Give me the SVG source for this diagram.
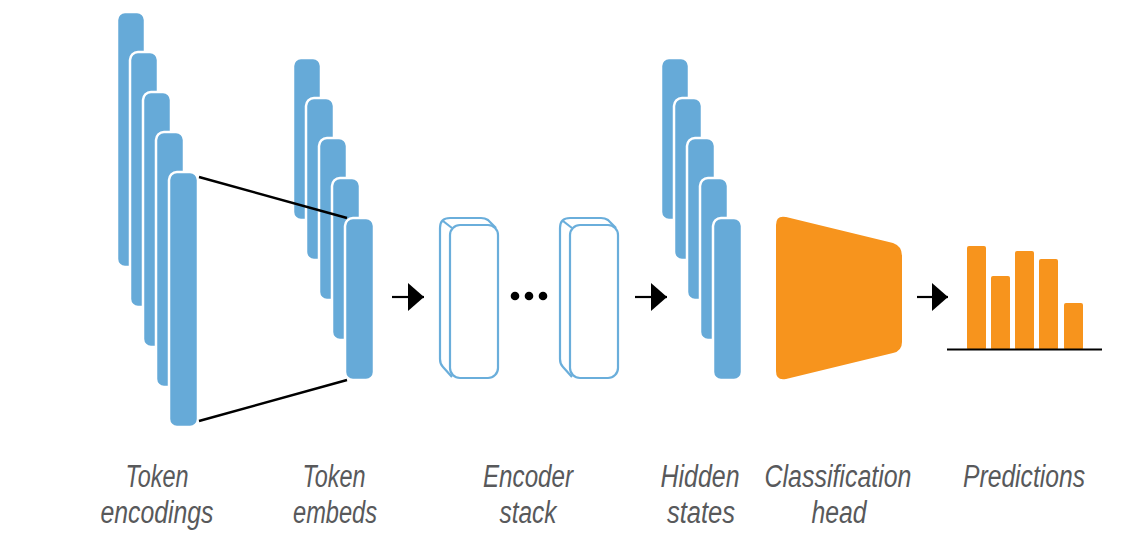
<svg xmlns="http://www.w3.org/2000/svg" width="1135" height="550" viewBox="0 0 1135 550">
<defs>
<style>
.bar{fill:#66aad8;stroke:#ffffff;stroke-width:2.5}
.enc{fill:#ffffff;stroke:#6aaedb;stroke-width:2.2;stroke-linejoin:round}
.orange{fill:#f7941d}
.lbl{font-family:"Liberation Sans",Arial,sans-serif;font-style:italic;font-size:31px;fill:#58595b;text-anchor:middle}
.conn{stroke:#000000;stroke-width:2.5;fill:none}
.arrow{stroke:#000000;stroke-width:2.2;fill:none;marker-end:url(#head)}
</style>
<marker id="head" markerUnits="userSpaceOnUse" markerWidth="17" markerHeight="28" refX="16" refY="14" orient="auto" viewBox="0 0 17 28">
<path d="M0,0 L16,14 L0,28 Z" fill="#000000"/>
</marker>
</defs>
<rect width="1135" height="550" fill="#ffffff"/>

<g id="token-encodings">
<rect class="bar" x="117" y="12" width="28" height="255" rx="8"/>
<rect class="bar" x="130" y="52" width="28" height="255" rx="8"/>
<rect class="bar" x="143" y="92" width="28" height="255" rx="8"/>
<rect class="bar" x="156" y="132" width="28" height="255" rx="8"/>
<rect class="bar" x="169" y="172" width="29" height="255" rx="8"/>
<text class="lbl" x="157" y="487" textLength="63" lengthAdjust="spacingAndGlyphs">Token</text>
<text class="lbl" x="157" y="523" textLength="113" lengthAdjust="spacingAndGlyphs">encodings</text>
</g>

<g id="token-embeds">
<rect class="bar" x="293" y="58" width="28" height="162" rx="8"/>
<rect class="bar" x="306" y="98" width="28" height="162" rx="8"/>
<rect class="bar" x="319" y="138" width="28" height="162" rx="8"/>
<rect class="bar" x="332" y="178" width="28" height="162" rx="8"/>
<rect class="bar" x="345" y="218" width="29" height="162" rx="8"/>
<text class="lbl" x="334" y="487" textLength="63" lengthAdjust="spacingAndGlyphs">Token</text>
<text class="lbl" x="335" y="523" textLength="84" lengthAdjust="spacingAndGlyphs">embeds</text>
</g>

<g id="encoder-stack">
<g>
<path class="enc" d="M452,377 L443,367 Q440,364 440,359 L440,228 Q440,218 450,218 L481,218 Q485,218 488,220 L496,228"/>
<path class="enc" d="M443,221 L452,228"/>
<rect class="enc" x="450" y="225" width="48" height="153" rx="10"/>
</g>
<g>
<path class="enc" d="M572,377 L563,367 Q560,364 560,359 L560,228 Q560,218 570,218 L601,218 Q605,218 608,220 L616,228"/>
<path class="enc" d="M563,221 L572,228"/>
<rect class="enc" x="570" y="225" width="48" height="153" rx="10"/>
</g>
<circle cx="515" cy="296" r="4.3" fill="#000000"/>
<circle cx="529" cy="296" r="4.3" fill="#000000"/>
<circle cx="543" cy="296" r="4.3" fill="#000000"/>
<text class="lbl" x="528" y="487" textLength="90" lengthAdjust="spacingAndGlyphs">Encoder</text>
<text class="lbl" x="528" y="523" textLength="57" lengthAdjust="spacingAndGlyphs">stack</text>
</g>

<g id="hidden-states">
<rect class="bar" x="661" y="58" width="28" height="162" rx="8"/>
<rect class="bar" x="674" y="98" width="28" height="162" rx="8"/>
<rect class="bar" x="687" y="138" width="28" height="162" rx="8"/>
<rect class="bar" x="700" y="178" width="28" height="162" rx="8"/>
<rect class="bar" x="713" y="218" width="29" height="162" rx="8"/>
<text class="lbl" x="700" y="487" textLength="79" lengthAdjust="spacingAndGlyphs">Hidden</text>
<text class="lbl" x="701" y="523" textLength="68" lengthAdjust="spacingAndGlyphs">states</text>
</g>

<g id="classification-head">
<path class="orange" d="M786,217 L893,243 Q902,246 902,256 L902,342 Q902,351 893,353 L786,379 Q776,381 776,371 L776,225 Q776,215 786,217 Z"/>
<text class="lbl" x="838" y="487" textLength="147" lengthAdjust="spacingAndGlyphs">Classification</text>
<text class="lbl" x="839" y="523" textLength="55" lengthAdjust="spacingAndGlyphs">head</text>
</g>

<g id="predictions">
<rect class="orange" x="967" y="246" width="19" height="104" rx="2"/>
<rect class="orange" x="991" y="276" width="19" height="74" rx="2"/>
<rect class="orange" x="1015" y="251" width="19" height="99" rx="2"/>
<rect class="orange" x="1039" y="259" width="19" height="91" rx="2"/>
<rect class="orange" x="1064" y="303" width="19" height="47" rx="2"/>
<line x1="947" y1="349.5" x2="1102" y2="349.5" stroke="#000000" stroke-width="2.2"/>
<text class="lbl" x="1024" y="487" textLength="122" lengthAdjust="spacingAndGlyphs">Predictions</text>
</g>

<g id="connectors">
<line class="conn" x1="199" y1="177" x2="347" y2="218"/>
<line class="conn" x1="199" y1="421" x2="347" y2="380"/>
<line class="arrow" x1="392" y1="297" x2="424" y2="297"/>
<line class="arrow" x1="635" y1="297" x2="667" y2="297"/>
<line class="arrow" x1="917" y1="297" x2="948" y2="297"/>
</g>
</svg>
